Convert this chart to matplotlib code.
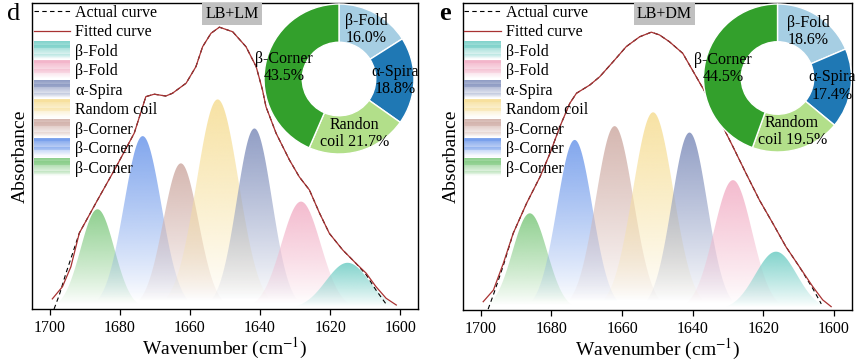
import numpy as np
import matplotlib
matplotlib.use("Agg")
import matplotlib.pyplot as plt
import matplotlib.colors as mcolors
from matplotlib.patches import Patch, Rectangle
from matplotlib.lines import Line2D
from matplotlib.legend_handler import HandlerBase

plt.rcParams['font.family'] = ['Liberation Serif', 'DejaVu Serif']
plt.rcParams['mathtext.fontset'] = 'stix'

# --- dane ---
# krzywe (d: LB+LM, e: LB+DM)
fit_d_x = [1699.3, 1696.4, 1694.0, 1691.6, 1686.4, 1681.1, 1675.9, 1672.6, 1670.2, 1666.9, 1665.0,
           1661.1, 1658.3, 1656.4, 1654.0, 1651.6, 1647.8, 1644.0, 1641.1, 1639.3, 1638.3, 1635.4,
           1631.6, 1628.8, 1625.9, 1623.0, 1620.2, 1616.4, 1612.6, 1609.7, 1606.9, 1604.0, 1601.1]
fit_d_y = [0.033, 0.073, 0.138, 0.248, 0.356, 0.464, 0.575, 0.694, 0.702, 0.696, 0.705,
           0.738, 0.792, 0.857, 0.901, 0.921, 0.906, 0.857, 0.792, 0.716, 0.661, 0.574,
           0.487, 0.432, 0.389, 0.313, 0.247, 0.193, 0.149, 0.117, 0.073, 0.035, 0.013]
act_d_x = [1698.8, 1697.3, 1695.4, 1693.5, 1691.6, 1686.4, 1681.1, 1675.9, 1672.6, 1670.2, 1666.9,
           1665.0, 1661.1, 1658.3, 1656.4, 1654.0, 1651.6, 1647.8, 1644.0, 1641.1, 1639.3, 1638.3,
           1635.4, 1631.6, 1628.8, 1625.9, 1623.0, 1620.2, 1616.4, 1612.6, 1609.7, 1606.9, 1604.0]
act_d_y = [0.000, 0.046, 0.117, 0.182, 0.248, 0.356, 0.464, 0.575, 0.694, 0.702, 0.696,
           0.705, 0.738, 0.792, 0.857, 0.901, 0.921, 0.906, 0.857, 0.792, 0.716, 0.661,
           0.574, 0.487, 0.432, 0.389, 0.313, 0.247, 0.193, 0.149, 0.112, 0.062, 0.016]

fit_e_x = [1699.3, 1696.4, 1693.6, 1690.8, 1687.0, 1683.2, 1680.4, 1677.6, 1674.8, 1672.9, 1669.1,
           1666.3, 1662.5, 1658.8, 1655.0, 1651.7, 1649.4, 1646.6, 1642.8, 1639.0, 1635.2, 1632.4,
           1628.6, 1624.9, 1621.1, 1617.3, 1613.6, 1609.8, 1606.0, 1603.2, 1600.8]
fit_e_y = [0.027, 0.065, 0.152, 0.250, 0.348, 0.434, 0.510, 0.597, 0.673, 0.706, 0.733,
           0.760, 0.809, 0.858, 0.890, 0.905, 0.896, 0.874, 0.836, 0.760, 0.684, 0.619,
           0.532, 0.445, 0.358, 0.282, 0.206, 0.141, 0.076, 0.033, 0.011]
act_e_x = [1697.9, 1696.4, 1693.6, 1690.8, 1687.0, 1683.2, 1680.4, 1677.6, 1674.8, 1672.9, 1669.1,
           1666.3, 1662.5, 1658.8, 1655.0, 1651.7, 1649.4, 1646.6, 1642.8, 1639.0, 1635.2, 1632.4,
           1628.6, 1624.9, 1621.1, 1617.3, 1613.6, 1609.8, 1606.0, 1603.6]
act_e_y = [0.003, 0.050, 0.145, 0.250, 0.348, 0.434, 0.510, 0.597, 0.673, 0.706, 0.733,
           0.760, 0.809, 0.858, 0.890, 0.905, 0.896, 0.874, 0.836, 0.760, 0.684, 0.619,
           0.532, 0.445, 0.358, 0.282, 0.206, 0.141, 0.070, 0.020]

# pasma (od 1700 do 1600): pozycja, wysokość, szerokość (sigma)
peak_names = ['β-Corner', 'β-Corner', 'β-Corner', 'Random coil', 'α-Spira', 'β-Fold', 'β-Fold']
peak_colors = ['#86cc86', '#779fec', '#d2b1aa', '#f7e09c', '#8896c0', '#f3b5ca', '#78d0c8']
cen_d = [1686.4, 1673.5, 1662.6, 1652.1, 1641.6, 1628.3, 1615.0]
amp_d = [0.326, 0.565, 0.476, 0.685, 0.590, 0.351, 0.151]
sig_d = [4.8, 5.3, 5.0, 6.0, 5.0, 5.6, 6.2]
cen_e = [1686.1, 1673.4, 1662.1, 1651.2, 1640.9, 1628.6, 1616.4]
amp_e = [0.315, 0.554, 0.599, 0.644, 0.578, 0.423, 0.190]
sig_e = [4.9, 5.0, 5.3, 5.7, 5.0, 5.4, 5.9]

# wykresy kołowe
pie_colors = ['#a6cee3', '#1f78b4', '#b2df8a', '#33a02c']
pie_d = [16.0, 18.8, 21.7, 43.5]
pie_d_labels = ['β-Fold\n16.0%', 'α-Spira\n18.8%', 'Randon\ncoil 21.7%', 'β-Corner\n43.5%']
pie_e = [18.6, 17.4, 19.5, 44.5]
pie_e_labels = ['β-Fold\n18.6%', 'α-Spira\n17.4%', 'Random\ncoil 19.5%', 'β-Corner\n44.5%']

W, H = 856, 364


class GradHandler(HandlerBase):
    # gradientowy kwadracik w legendzie
    def create_artists(self, legend, orig, xdescent, ydescent, width, height, fontsize, trans):
        col = mcolors.to_rgb(orig.get_facecolor())
        n = 16
        hh = height * 1.6
        y0 = -ydescent - (hh - height) / 2
        arts = []
        for i in range(n):
            a = ((i + 0.5) / n) ** 0.9 * 0.95
            arts.append(Rectangle((-xdescent, y0 + hh * i / n), width, hh / n + 0.3,
                                  facecolor=col, alpha=a, edgecolor='none', transform=trans))
        return arts


def gradient_peak(ax, c, a, s, color):
    x = np.linspace(c - 4 * s, c + 4 * s, 200)
    y = a * np.exp(-0.5 * ((x - c) / s) ** 2)
    poly = ax.fill_between(x, 0, y, facecolor='none', edgecolor='none')
    rgba = np.zeros((256, 1, 4))
    rgba[..., :3] = mcolors.to_rgb(color)
    t = np.linspace(0, 1, 256)
    rgba[:, 0, 3] = np.clip((t - 0.05) / 0.95, 0, 1) ** 0.85 * 0.92
    im = ax.imshow(rgba, extent=[x.min(), x.max(), 0, a], origin='lower',
                   aspect='auto', zorder=1, interpolation='bilinear')
    im.set_clip_path(poly.get_paths()[0], transform=ax.transData)


def panel(rect, letter, tag, cen, amp, sig, fx, fy, ax_x, ax_y, pie_rect, pvals, plabels):
    fig = plt.gcf()
    ax = fig.add_axes(rect)
    for c, a, s, col in zip(cen, amp, sig, peak_colors):
        gradient_peak(ax, c, a, s, col)
    ax.plot(ax_x, ax_y, ls=(0, (4, 3)), color='black', lw=0.8, zorder=3)
    ax.plot(fx, fy, color='#a83232', lw=0.9, zorder=4)
    ax.set_xlim(1705.1, 1594.9)
    ax.set_ylim(0, 1)
    ax.set_yticks([])
    ax.set_xticks([1700, 1680, 1660, 1640, 1620, 1600])
    ax.tick_params(axis='x', direction='out', length=4, width=0.9, labelsize=11.5, pad=4)
    for sp in ax.spines.values():
        sp.set_linewidth(1.0)
    ax.set_xlabel('Wavenumber (cm$^{-1}$)', fontsize=14, labelpad=0)
    ax.set_ylabel('Absorbance', fontsize=14, labelpad=2)

    handles = [Line2D([], [], ls=(0, (4, 3)), color='black', lw=0.8),
               Line2D([], [], color='#a83232', lw=0.9)]
    labels = ['Actual curve', 'Fitted curve']
    for name, col in list(zip(peak_names, peak_colors))[::-1]:
        handles.append(Patch(facecolor=col))
        labels.append(name)
    ax.legend(handles, labels, loc='upper left', bbox_to_anchor=(0, 1), frameon=False,
              fontsize=11.5, handlelength=2.3, handletextpad=0.3, labelspacing=0.22,
              borderpad=0.1, borderaxespad=0.0, handler_map={Patch: GradHandler()})

    ax.text(0.518, 0.965, tag, transform=ax.transAxes, ha='center', va='center', fontsize=11.5,
            bbox=dict(boxstyle='square,pad=0.2', facecolor='#c0c0c0', edgecolor='none'), zorder=5)
    fig.text(rect[0] - 0.021, 0.962, letter, ha='center', va='center', fontsize=19,
             fontweight='bold' if letter == 'e' else 'normal')

    pax = fig.add_axes(pie_rect)
    pax.pie(pvals, colors=pie_colors, startangle=90, counterclock=False, radius=1,
            labels=plabels, labeldistance=0.75,
            wedgeprops=dict(width=0.51, edgecolor='white', linewidth=1),
            textprops=dict(ha='center', va='center', fontsize=11.5, multialignment='center',
                           linespacing=1.1))
    pax.set_xlim(-1, 1)
    pax.set_ylim(-1, 1)
    pax.set_aspect('equal')
    pax.axis('off')
    return ax


fig = plt.figure(figsize=(W / 100, H / 100), dpi=100)

panel([32 / W, 55 / H, 386 / W, 306 / H], 'd', 'LB+LM', cen_d, amp_d, sig_d,
      fit_d_x, fit_d_y, act_d_x, act_d_y,
      [(339 - 75) / W, (H - 79 - 75) / H, 150 / W, 150 / H], pie_d, pie_d_labels)
panel([462.7 / W, 54 / H, 389.3 / W, 307 / H], 'e', 'LB+DM', cen_e, amp_e, sig_e,
      fit_e_x, fit_e_y, act_e_x, act_e_y,
      [(777.5 - 74) / W, (H - 78 - 74) / H, 148 / W, 148 / H], pie_e, pie_e_labels)

fig.savefig('out.png', dpi=100)
